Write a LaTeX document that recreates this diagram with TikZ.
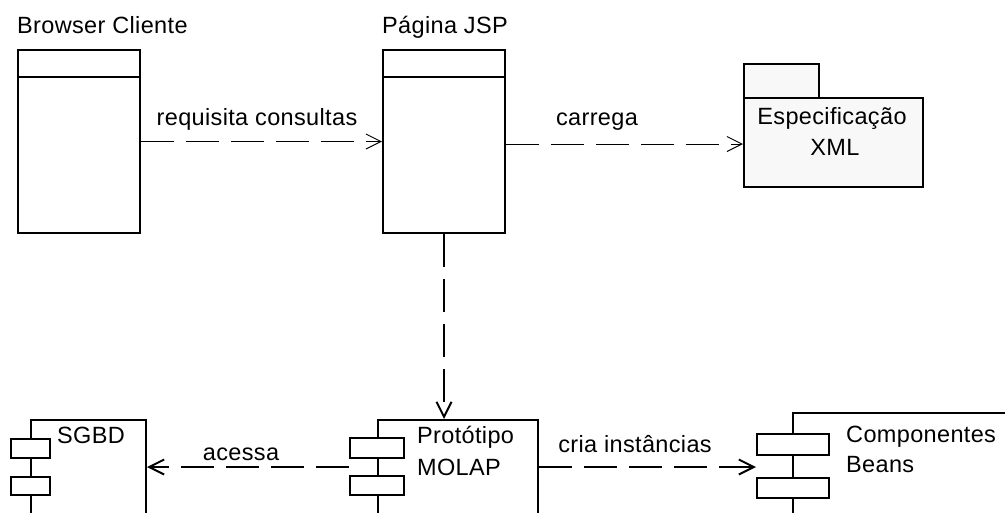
\documentclass[tikz,border=0pt]{standalone}
\usepackage{fontspec}
\setmainfont[LetterSpace=1.5]{Liberation Sans}
\usetikzlibrary{arrows.meta,calc}
\definecolor{pkgfill}{RGB}{248,248,248}
\begin{document}
\begin{tikzpicture}[x=1pt,y=-1pt,
  box/.style={draw, line width=2pt, fill=white, inner sep=0pt, anchor=north west},
  lbl/.style={font=\fontsize{23.5}{31}\selectfont, inner sep=0pt},
  dep/.style={dash pattern=on 33pt off 12pt, -{Straight Barb[length=15pt,width=15pt]}},
  thin/.style={line width=1pt},
  thick/.style={line width=2pt},
]
\useasboundingbox (0,0) rectangle (1005,512);
\clip (0,0) rectangle (1005,512);
\fill[white] (0,0) rectangle (1005,512);

% class boxes
\node[box, minimum width=122pt, minimum height=183pt] (browser) at (17,49) {};
\draw[thick] ([yshift=-28pt]browser.north west) -- ([yshift=-28pt]browser.north east);
\node[box, minimum width=122pt, minimum height=183pt] (jsp) at (382,49) {};
\draw[thick] ([yshift=-28pt]jsp.north west) -- ([yshift=-28pt]jsp.north east);
\node[lbl, anchor=base west] (browserlbl) at (17,33) {Browser Cliente};
\node[lbl, anchor=base west] (jsplbl) at (382,33) {Página JSP};

% package
\node[box, fill=pkgfill, minimum width=75pt, minimum height=34pt] (xmltab) at (743,63) {};
\node[box, fill=pkgfill, minimum width=179pt, minimum height=89pt] (xml) at (743,97) {};
\node[lbl, anchor=base] (xmllbl1) at (832,124) {Especificação};
\node[lbl, anchor=base] (xmllbl2) at (835,155) {XML};

% components
\node[box, minimum width=115pt, minimum height=120pt] (sgbd) at (30,419) {};
\node[box, minimum width=39pt, minimum height=19pt] (sr1) at (10,438) {};
\node[box, minimum width=39pt, minimum height=18pt] (sr2) at (10,476) {};
\node[lbl, anchor=base west] (sgbdlbl) at (57,443) {SGBD};

\node[box, minimum width=160pt, minimum height=120pt] (proto) at (377,419) {};
\node[box, minimum width=54pt, minimum height=20pt] (pr1) at (349,437) {};
\node[box, minimum width=54pt, minimum height=19pt] (pr2) at (349,475) {};
\node[lbl, anchor=base west] (protolbl1) at (417,443) {Protótipo};
\node[lbl, anchor=base west] (protolbl2) at (417,475) {MOLAP};

\node[box, minimum width=240pt, minimum height=130pt] (comp) at (792,412) {};
\node[box, minimum width=72pt, minimum height=21pt] (cr1) at (756,433) {};
\node[box, minimum width=72pt, minimum height=20pt] (cr2) at (756,477) {};
\node[lbl, anchor=base west] (complbl1) at (846,442) {Componentes};
\node[lbl, anchor=base west] (complbl2) at (846,472) {Beans};

% connectors
\draw[dep, thin] (browser.east) -- (jsp.west);
\node[lbl, anchor=base] (l1) at (257,125) {requisita consultas};

\coordinate (jx) at ($(jsp.east)+(0,2.5)$);
\draw[dep, thin] (jx) -- (jx -| xml.west);
\node[lbl, anchor=base] (l2) at (597,125) {carrega};

\draw[dep, thick] (jsp.south) -- (jsp.south |- proto.north);

\coordinate (pm) at ($(pr1.south west)!.5!(pr2.north west)$);
\draw[dep, thick] (pm) -- (pm -| sgbd.east);
\node[lbl, anchor=base] (l3) at (241,460) {acessa};

\coordinate (pe) at (pm -| proto.east);
\draw[dep, thick] (pe) -- (pe -| cr1.west);
\node[lbl, anchor=base] (l4) at (635,452) {cria instâncias};
\end{tikzpicture}
\end{document}
